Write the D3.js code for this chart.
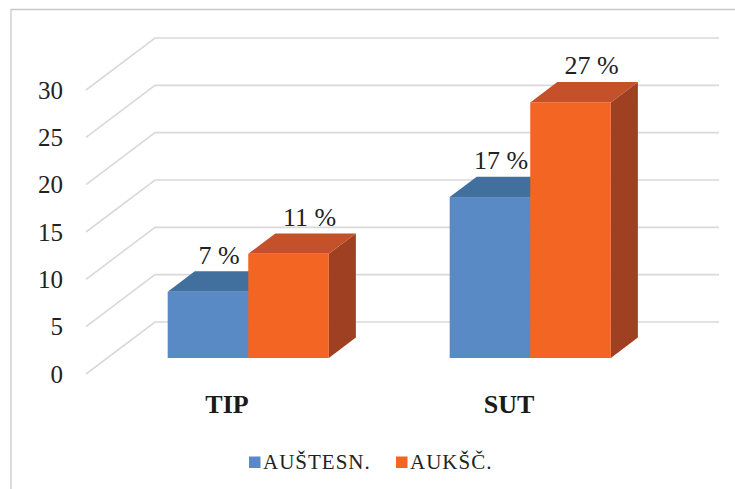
<!DOCTYPE html>
<html>
<head>
<meta charset="utf-8">
<script src="https://cdn.jsdelivr.net/npm/d3@7/dist/d3.min.js"></script>
<style>
  html, body { margin: 0; padding: 0; background: #fff; }
  svg { display: block; }
  svg text { font-family: "Liberation Serif", "Times New Roman", Times, "DejaVu Serif", serif; }
</style>
</head>
<body>
<svg id="chart" width="735" height="489"></svg>
<script>
// ---- data ----
const categories = ["TIP", "SUT"];
const seriesNames = ["AUŠTESN.", "AUKŠČ."];
const seriesAustesn = [7, 17];
const seriesAuksc = [11, 27];
const yTicks = [0, 5, 10, 15, 20, 25, 30];

// ---- layout ----
const frontLeft = 86, frontRight = 650;
const floorY = 374, topY = 90;
const depthX = 69, depthY = -52;
const barF1 = 0.308, barF2 = 0.70;
const colors = [
  { front: "#5a8ac6", top: "#41709f", side: "#3a6591" },
  { front: "#f26522", top: "#c4512a", side: "#a04023" }
];
const labelDx = [11, 21];

const svg = d3.select("#chart");
const series = [seriesAustesn, seriesAuksc];

const y = d3.scaleLinear().domain([0, 30]).range([floorY, topY]);
const xCat = d3.scaleBand().domain(categories).range([frontLeft, frontRight]).paddingInner(0).paddingOuter(0);
const xSer = d3.scaleBand().domain(seriesNames).range([0, xCat.bandwidth()]).paddingInner(0).paddingOuter(0.75);

// frame
svg.append("path")
  .attr("d", `M11,489 L11,9.5 L735,9.5`)
  .attr("fill", "none").attr("stroke", "#c8c8c8").attr("stroke-width", 1.3);

// gridlines (diagonal on side wall + back wall horizontal)
const grid = svg.append("g");
yTicks.forEach(t => {
  const yf = y(t);
  grid.append("path")
    .attr("d", `M${frontLeft},${yf} L${frontLeft + depthX},${yf + depthY} L${frontRight + depthX},${yf + depthY}`)
    .attr("fill", "none").attr("stroke", "#d9d9d9").attr("stroke-width", 1.6);
});

// y axis labels
const axis = d3.axisLeft(y).tickValues(yTicks).tickSize(0).tickPadding(0).tickFormat(d3.format("d"));
const ag = svg.append("g").attr("transform", `translate(63,0)`).call(axis);
ag.select(".domain").remove();
ag.attr("font-family", null);
ag.selectAll("text")
  .style("font-size", "25px").attr("fill", "#222");

// bars
const fx1 = barF1 * depthX, fy1 = barF1 * depthY;
const bdx = (barF2 - barF1) * depthX, bdy = (barF2 - barF1) * depthY;
const barsG = svg.append("g");
const labelsG = svg.append("g");

categories.forEach((cat, ci) => {
  seriesNames.forEach((sn, si) => {
    const v = series[si][ci];
    const x0 = xCat(cat) + xSer(sn) + fx1;
    const x1 = x0 + xSer.bandwidth();
    const yb = y(0) + fy1;
    const yt = y(v) + fy1;
    const c = colors[si];
    barsG.append("path")
      .attr("d", `M${x1},${yb} L${x1 + bdx},${yb + bdy} L${x1 + bdx},${yt + bdy} L${x1},${yt} Z`)
      .attr("fill", c.side);
    barsG.append("path")
      .attr("d", `M${x0},${yt} L${x0 + bdx},${yt + bdy} L${x1 + bdx},${yt + bdy} L${x1},${yt} Z`)
      .attr("fill", c.top);
    barsG.append("rect")
      .attr("x", x0).attr("y", yt).attr("width", x1 - x0).attr("height", yb - yt)
      .attr("fill", c.front);
    labelsG.append("text")
      .attr("x", (x0 + x1) / 2 + labelDx[si])
      .attr("y", yt - 28)
      .attr("text-anchor", "middle")
      .style("font-size", "26px").attr("fill", "#222")
      .text(v + " %");
  });
});

// category labels
svg.append("g").selectAll("text").data(categories).join("text")
  .attr("x", d => xCat(d) + xCat.bandwidth() / 2)
  .attr("y", 413)
  .attr("text-anchor", "middle")
  .style("font-weight", "bold")
  .style("font-size", "26px").attr("fill", "#1a1a1a")
  .text(d => d);

// legend
const legend = svg.append("g");
const legendX = [249, 396];
seriesNames.forEach((sn, si) => {
  legend.append("rect")
    .attr("x", legendX[si]).attr("y", 456.5).attr("width", 11.5).attr("height", 11.5)
    .attr("fill", colors[si].front);
  legend.append("text")
    .attr("x", legendX[si] + 14).attr("y", 469)
    .style("font-size", "21px").style("letter-spacing", "1px").attr("fill", "#222")
    .text(sn);
});
</script>
</body>
</html>
